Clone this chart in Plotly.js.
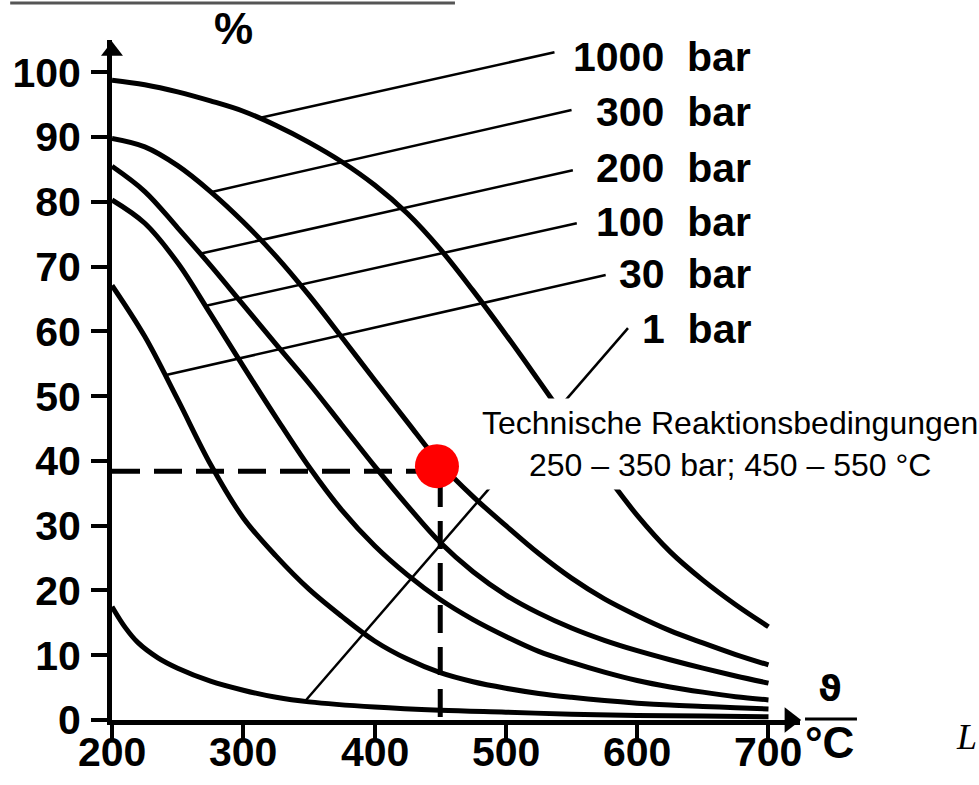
<!DOCTYPE html>
<html><head><meta charset="utf-8">
<script src="https://cdn.plot.ly/plotly-3.0.1.min.js"></script>
<style>html,body{margin:0;padding:0;background:#fff;}#chart{width:979px;height:785px;}</style>
</head><body><div id="chart"></div>
<script>
// ---- data (temperature in °C, NH3 share in %) ----
const pressureLabels = ["1000 bar", "300 bar", "200 bar", "100 bar", "30 bar", "1 bar"];

const tempGrid = [200, 225, 250, 275, 300, 325, 350, 375, 400, 425, 450, 475, 500, 525, 550, 575, 600, 625, 650, 675, 700];

const yield1000 = [98.8, 98.1, 97.0, 95.6, 94.0, 91.8, 89.2, 86.2, 82.6, 78.2, 72.7, 66.3, 59.5, 52.4, 45.2, 38.2, 31.6, 26.0, 21.6, 17.8, 14.4];
const yield300  = [89.8, 88.5, 85.6, 81.6, 76.9, 71.6, 65.6, 59.1, 52.5, 46.0, 39.6, 34.5, 30.0, 25.7, 21.9, 18.7, 16.1, 13.8, 11.9, 10.1, 8.5];
const yield200  = [85.5, 81.6, 76.0, 70.2, 64.1, 58.0, 52.0, 45.6, 39.2, 33.1, 27.4, 22.9, 19.3, 16.5, 14.2, 12.3, 10.7, 9.3, 8.0, 6.8, 5.7];
const yield100  = [80.3, 76.7, 70.6, 62.7, 54.6, 46.7, 39.1, 32.4, 26.9, 22.4, 18.6, 15.5, 12.9, 10.6, 8.9, 7.4, 6.1, 5.1, 4.3, 3.6, 3.1];
const yield30   = [67.1, 59.2, 49.5, 39.5, 31.2, 25.3, 20.2, 16.0, 12.2, 9.4, 7.3, 5.9, 4.9, 4.1, 3.5, 3.0, 2.6, 2.3, 2.1, 1.9, 1.7];

const temp1 = [200, 210, 220, 235, 250, 275, 300, 325, 350, 400, 450, 500, 550, 600, 650, 700];
const yield1 = [17.5, 14.3, 11.9, 9.6, 8.0, 6.0, 4.6, 3.5, 2.8, 2.0, 1.5, 1.2, 0.9, 0.7, 0.6, 0.5];

// label leader lines: from label (start) to curve (end)
const leaderFromT = [537, 550, 551, 554, 576, 593];
const leaderFromP = [103.1, 94.2, 84.9, 76.7, 68.7, 60.5];
const leaderToT = [313, 275, 267, 270, 242, 347];
const leaderToP = [93.0, 81.5, 72.0, 63.9, 53.3, 2.9];
const labelP = [102.4, 93.9, 85.2, 76.9, 68.9, 60.4];
const labelRightT = 688;

// technical operating point
const readingT = 450;
const readingP = 38.4;
const pointT = [447.5];
const pointP = [39.2];

const xTicks = [200, 300, 400, 500, 600, 700];
const yTicks = [0, 10, 20, 30, 40, 50, 60, 70, 80, 90, 100];

// ---- traces ----
const curveSets = [[tempGrid, yield1000], [tempGrid, yield300], [tempGrid, yield200],
                   [tempGrid, yield100], [tempGrid, yield30], [temp1, yield1]];
const traces = [];
curveSets.forEach((c, i) => {
  traces.push({x: c[0], y: c[1], mode: 'lines', name: pressureLabels[i],
    line: {color: '#000', width: 5, shape: 'spline', smoothing: 1}, hoverinfo: 'skip'});
});
pressureLabels.forEach((p, i) => {
  traces.push({x: [leaderFromT[i], leaderToT[i]], y: [leaderFromP[i], leaderToP[i]], mode: 'lines',
    line: {color: '#000', width: 2.5}, hoverinfo: 'skip', cliponaxis: false});
});
traces.push({x: [xTicks[0], readingT, readingT], y: [readingP, readingP, yTicks[0]], mode: 'lines',
  line: {color: '#000', width: 5, dash: '28px,14px'}, hoverinfo: 'skip'});
// axis arrow heads
traces.push({x: [xTicks[0]], y: [103.3], mode: 'markers', cliponaxis: false,
  marker: {symbol: 'triangle-up', size: 19, color: '#000'}, hoverinfo: 'skip'});
traces.push({x: [716.5], y: [yTicks[0]], mode: 'markers', cliponaxis: false,
  marker: {symbol: 'triangle-right', size: 22, color: '#000'}, hoverinfo: 'skip'});
traces.push({x: pointT, y: pointP, mode: 'markers', cliponaxis: false,
  marker: {size: 44, color: '#ff0000'}, hoverinfo: 'skip'});

const boldFont = {family: 'Liberation Sans, Arial, sans-serif', size: 41, color: '#000', weight: 'bold'};
const annotations = pressureLabels.map((p, i) => ({
  x: labelRightT, y: labelP[i], xref: 'x', yref: 'y', xanchor: 'right', yanchor: 'middle',
  text: p.replace(' ', '\u00a0\u00a0'), showarrow: false, font: boldFont
}));
xTicks.forEach(t => annotations.push({x: t, y: -0.047, xref: 'x', yref: 'paper', xanchor: 'center',
  yanchor: 'middle', text: String(t), showarrow: false, font: boldFont}));
annotations.push({x: 670.7, y: 42.6, xref: 'x', yref: 'y', xanchor: 'center', yanchor: 'middle',
  text: 'Technische Reaktionsbedingungen<br>250 – 350 bar; 450 – 550 °C', showarrow: false,
  bgcolor: '#fff', borderpad: 6,
  font: {family: 'Liberation Sans, Arial, sans-serif', size: 32, color: '#000'}});
annotations.push({x: 0.176, y: 1.0176, xref: 'paper', yref: 'paper', xanchor: 'center', yanchor: 'middle',
  text: '%', showarrow: false, font: {family: 'Liberation Sans, Arial, sans-serif', size: 44, color: '#000', weight: 'bold'}});
annotations.push({x: 1.0436, y: 0.047, xref: 'paper', yref: 'paper', xanchor: 'center', yanchor: 'middle',
  text: 'ϑ', showarrow: false, font: {family: 'DejaVu Sans, sans-serif', size: 36, color: '#000', weight: 'bold'}});
annotations.push({x: 1.0436, y: -0.033, xref: 'paper', yref: 'paper', xanchor: 'center', yanchor: 'middle',
  text: '°C', showarrow: false, font: {family: 'Liberation Sans, Arial, sans-serif', size: 44, color: '#000', weight: 'bold'}});
annotations.push({x: 1.2602, y: -0.025, xref: 'paper', yref: 'paper', xanchor: 'right', yanchor: 'middle',
  text: '<i>L</i>', showarrow: false, font: {family: 'Liberation Serif, Times New Roman, serif', size: 36, color: '#000'}});

const layout = {
  width: 979, height: 785,
  margin: {l: 112, r: 179, t: 40, b: 65, pad: 0},
  paper_bgcolor: '#fff', plot_bgcolor: '#fff',
  showlegend: false,
  xaxis: {range: [200, 724], tickvals: xTicks, showticklabels: false, ticks: 'outside', ticklen: 14,
    tickwidth: 4, tickcolor: '#000', showline: true, linewidth: 5, linecolor: '#000',
    showgrid: false, zeroline: false},
  yaxis: {range: [0, 105], tickvals: yTicks, ticktext: yTicks.map(String), ticks: 'outside', ticklen: 16,
    tickwidth: 4, tickcolor: '#000', showline: true, linewidth: 5, linecolor: '#000',
    showgrid: false, zeroline: false, tickfont: boldFont, ticklabelstandoff: 2},
  shapes: [
    {type: 'line', xref: 'paper', yref: 'paper', x0: -0.148, x1: 0.4985, y0: 1.0544, y1: 1.0544,
     line: {color: '#555', width: 3}},
    {type: 'line', xref: 'paper', yref: 'paper', x0: 1.0073, x1: 1.0828, y0: 0.0015, y1: 0.0015,
     line: {color: '#000', width: 3}}
  ],
  annotations: annotations
};

Plotly.newPlot('chart', traces, layout, {displayModeBar: false, staticPlot: true});
</script>
</body></html>
